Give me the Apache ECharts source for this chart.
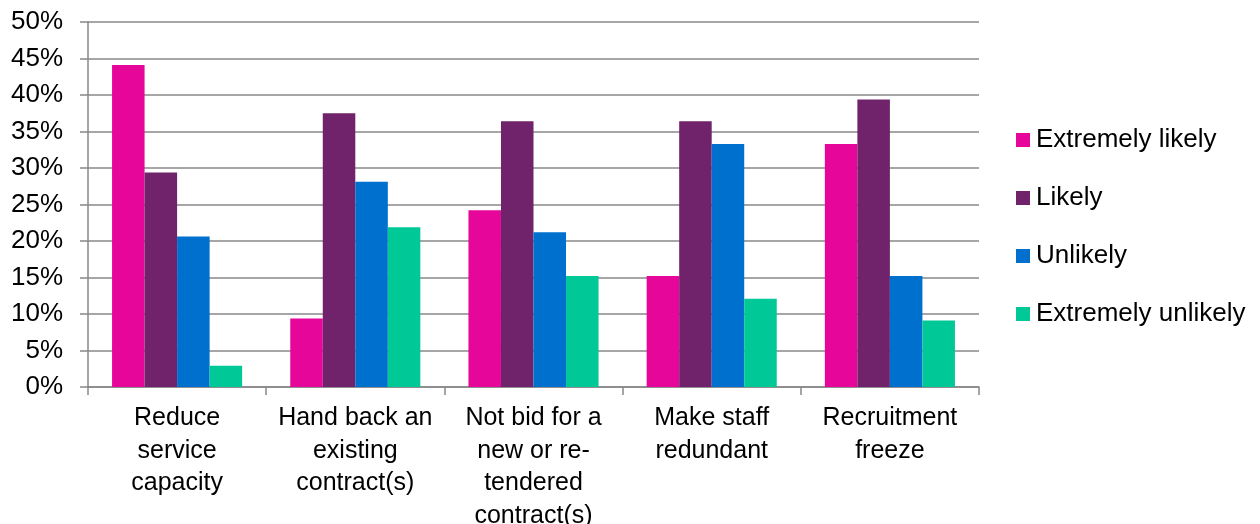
<!DOCTYPE html>
<html><head><meta charset="utf-8">
<script src="https://cdn.jsdelivr.net/npm/echarts@6/dist/echarts.min.js"></script>
<style>html,body{margin:0;padding:0;background:#fff}#c{width:1260px;height:524px}</style>
</head><body><div id="c"></div>
<script>
const categories = ["Reduce\nservice\ncapacity","Hand back an\nexisting\ncontract(s)","Not bid for a\nnew or re-\ntendered\ncontract(s)","Make staff\nredundant","Recruitment\nfreeze"];
const seriesNames = ["Extremely likely","Likely","Unlikely","Extremely unlikely"];
const extremelyLikely = [44.1, 9.4, 24.2, 15.2, 33.3];
const likely = [29.4, 37.5, 36.4, 36.4, 39.4];
const unlikely = [20.6, 28.1, 21.2, 33.3, 15.2];
const extremelyUnlikely = [2.9, 21.9, 15.2, 12.1, 9.1];
const colors = ["#E6079A","#70236B","#0070CF","#00C896"];
const values = [extremelyLikely, likely, unlikely, extremelyUnlikely];

const chart = echarts.init(document.getElementById('c'), null, {renderer:'canvas'});
chart.setOption({
  animation:false,
  grid:{left:88, right:281, top:22, bottom:137, containLabel:false, outerBoundsMode:'none'},
  legend:{
    orient:'vertical', left:1011, top:121, itemWidth:14, itemHeight:14, itemGap:30,
    icon:'rect',
    textStyle:{fontFamily:'Liberation Sans, Arial, sans-serif', fontSize:26, lineHeight:28, height:28, color:'#000', padding:[0,0,0,1]},
    data:seriesNames
  },
  xAxis:{
    type:'category', data:categories,
    axisLine:{lineStyle:{color:'#888', width:1.5}},
    axisTick:{show:true, length:8, lineStyle:{color:'#888', width:1.5}},
    axisLabel:{fontFamily:'Liberation Sans, Arial, sans-serif', fontSize:25, color:'#000', lineHeight:32.5, margin:15, interval:0}
  },
  yAxis:{
    type:'value', min:0, max:50, interval:5,
    axisLine:{show:true, lineStyle:{color:'#888', width:1.5}},
    axisTick:{show:true, length:8, lineStyle:{color:'#888', width:1.5}},
    splitLine:{lineStyle:{color:'#888', width:1.5}},
    axisLabel:{formatter:'{value}%', fontFamily:'Liberation Sans, Arial, sans-serif', fontSize:26, color:'#000', margin:25}
  },
  series: seriesNames.map((n,i)=>({
    name:n, type:'bar', data:values[i], itemStyle:{color:colors[i]},
    barGap:'0%', barCategoryGap:'27%'
  }))
});
</script></body></html>
